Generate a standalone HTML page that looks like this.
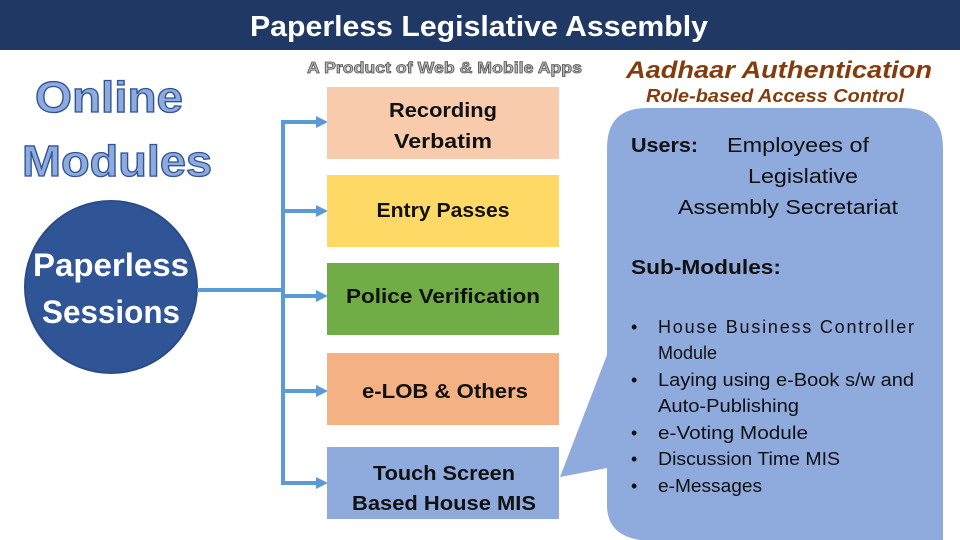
<!DOCTYPE html>
<html><head><meta charset="utf-8"><style>
html,body{margin:0;padding:0;background:#fff;width:960px;height:540px;overflow:hidden;}
svg{display:block;}
text{font-family:"Liberation Sans",sans-serif;}
</style></head><body>
<svg width="960" height="540" viewBox="0 0 960 540" xmlns="http://www.w3.org/2000/svg">
<rect x="0" y="0" width="960" height="50" fill="#203864"/>
<text x="250" y="36" font-size="29" font-weight="bold" fill="#fff" textLength="458" lengthAdjust="spacingAndGlyphs">Paperless Legislative Assembly</text>

<text x="307" y="73" font-size="16" font-weight="bold" fill="#bbb" stroke="#555" stroke-width="0.8" textLength="275" lengthAdjust="spacingAndGlyphs">A Product of Web &amp; Mobile Apps</text>

<text x="35" y="112" font-size="44" font-weight="bold" fill="#8faadc" stroke="#2f5597" stroke-width="1.3" textLength="148" lengthAdjust="spacingAndGlyphs">Online</text>
<text x="22" y="176" font-size="44" font-weight="bold" fill="#8faadc" stroke="#2f5597" stroke-width="1.3" textLength="190" lengthAdjust="spacingAndGlyphs">Modules</text>

<circle cx="111" cy="287" r="86" fill="#2f5597" stroke="#2a4c86" stroke-width="2"/>
<text x="33" y="276" font-size="32" font-weight="bold" fill="#fff" textLength="156" lengthAdjust="spacingAndGlyphs">Paperless</text>
<text x="42" y="323" font-size="32" font-weight="bold" fill="#fff" textLength="138" lengthAdjust="spacingAndGlyphs">Sessions</text>

<g stroke="#5b9bd5" stroke-width="4" fill="none">
<line x1="197" y1="290" x2="283" y2="290"/>
<line x1="283" y1="120" x2="283" y2="485"/>
<line x1="281" y1="122" x2="318" y2="122"/>
<line x1="281" y1="211" x2="318" y2="211"/>
<line x1="281" y1="296" x2="318" y2="296"/>
<line x1="281" y1="391" x2="318" y2="391"/>
<line x1="281" y1="483" x2="318" y2="483"/>
</g>
<g fill="#5b9bd5">
<polygon points="316,116 328,122 316,128"/>
<polygon points="316,205 328,211 316,217"/>
<polygon points="316,290 328,296 316,302"/>
<polygon points="316,385 328,391 316,397"/>
<polygon points="316,477 328,483 316,489"/>
</g>

<g font-size="20" font-weight="bold" fill="#111" text-anchor="middle">
<rect x="327" y="87" width="232" height="72" fill="#f8cbad"/>
<text x="443" y="117" textLength="108" lengthAdjust="spacingAndGlyphs">Recording</text>
<text x="443" y="148" textLength="98" lengthAdjust="spacingAndGlyphs">Verbatim</text>
<rect x="327" y="175" width="232" height="72" fill="#ffd966"/>
<text x="443" y="217" textLength="133" lengthAdjust="spacingAndGlyphs">Entry Passes</text>
<rect x="327" y="263" width="232" height="72" fill="#70ad47"/>
<text x="443" y="303" textLength="194" lengthAdjust="spacingAndGlyphs">Police Verification</text>
<rect x="327" y="353" width="232" height="72" fill="#f4b183"/>
<text x="445" y="398" textLength="166" lengthAdjust="spacingAndGlyphs">e-LOB &amp; Others</text>
<rect x="327" y="447" width="232" height="72" fill="#8faadc"/>
<text x="444" y="480" textLength="142" lengthAdjust="spacingAndGlyphs">Touch Screen</text>
<text x="444" y="510" textLength="184" lengthAdjust="spacingAndGlyphs">Based House MIS</text>
</g>

<text x="626" y="78" font-size="24" font-weight="bold" font-style="italic" fill="#843c0c" textLength="306" lengthAdjust="spacingAndGlyphs">Aadhaar Authentication</text>
<text x="646" y="102" font-size="18" font-weight="bold" font-style="italic" fill="#843c0c" textLength="258" lengthAdjust="spacingAndGlyphs">Role-based Access Control</text>

<path d="M647,108 H903 Q943,108 943,148 V540 H640 Q607,535 607,505 V468 L560,477 L607,355 V148 Q607,108 647,108 Z" fill="#8faadc"/>

<text x="631" y="152" font-size="20" font-weight="bold" fill="#111" textLength="67" lengthAdjust="spacingAndGlyphs">Users:</text>
<text x="727" y="152" font-size="20" fill="#111" textLength="142" lengthAdjust="spacingAndGlyphs">Employees of</text>
<text x="803" y="183" font-size="20" fill="#111" text-anchor="middle" textLength="110" lengthAdjust="spacingAndGlyphs">Legislative</text>
<text x="788" y="214" font-size="20" fill="#111" text-anchor="middle" textLength="220" lengthAdjust="spacingAndGlyphs">Assembly Secretariat</text>
<text x="631" y="274" font-size="20" font-weight="bold" fill="#111" textLength="150" lengthAdjust="spacingAndGlyphs">Sub-Modules:</text>
<g font-size="18" fill="#111">
<text x="631" y="333">•</text><text x="658" y="333" textLength="256" lengthAdjust="spacing">House   Business   Controller</text>
<text x="658" y="359">Module</text>
<text x="631" y="386">•</text><text x="658" y="386" textLength="256" lengthAdjust="spacingAndGlyphs">Laying using e-Book s/w and</text>
<text x="658" y="412" textLength="141" lengthAdjust="spacingAndGlyphs">Auto-Publishing</text>
<text x="631" y="439">•</text><text x="658" y="439" textLength="150" lengthAdjust="spacingAndGlyphs">e-Voting Module</text>
<text x="631" y="465">•</text><text x="658" y="465" textLength="182" lengthAdjust="spacingAndGlyphs">Discussion Time MIS</text>
<text x="631" y="492">•</text><text x="658" y="492" textLength="104" lengthAdjust="spacingAndGlyphs">e-Messages</text>
</g>
</svg>
</body></html>
